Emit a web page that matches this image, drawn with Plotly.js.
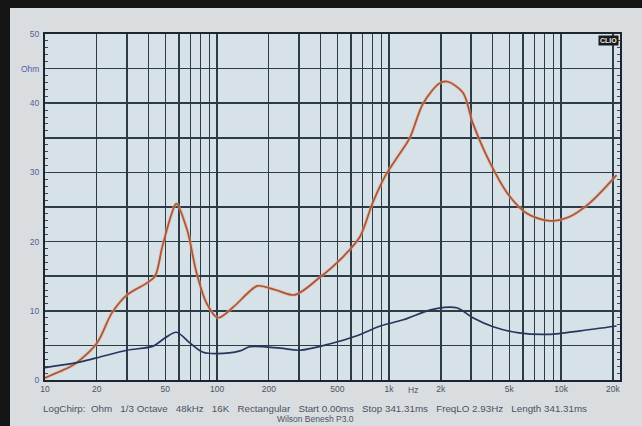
<!DOCTYPE html>
<html><head><meta charset="utf-8">
<script src="https://cdn.plot.ly/plotly-3.0.1.min.js"></script>
<style>
html,body{margin:0;padding:0;background:#141414;width:642px;height:426px;overflow:hidden;}
#chart{position:absolute;left:10px;top:8px;width:632px;height:418px;}
</style></head>
<body><div id="chart"></div>
<script>
// Red (upper) curve
const redFreq = [10, 14, 15.3, 20, 24.5, 30, 39, 43.6, 48, 54.6, 58, 67, 76, 87, 101, 125, 150, 172, 220, 283, 390, 540, 677, 800, 950, 1160, 1320, 1580, 1970, 2200, 2690, 3060, 3860, 4870, 6300, 8600, 11200, 14700, 21000];
const redOhm  = [0.3, 1.9, 2.5, 5.3, 9.7, 12.3, 14.0, 15.0, 19.2, 24.1, 25.5, 21.7, 15.5, 11.1, 9.0, 10.6, 12.5, 13.6, 13.0, 12.3, 14.7, 17.8, 20.7, 25.5, 29.5, 32.8, 35.0, 40.0, 42.9, 43.1, 41.5, 37.2, 31.4, 27.0, 24.1, 23.0, 23.6, 25.6, 29.6];
// Blue (lower) curve
const blueFreq = [10, 15.3, 20, 30, 42.5, 50, 58, 70, 83, 100, 136, 155, 232, 303, 450, 650, 890, 1210, 1720, 2100, 2500, 3070, 4030, 5700, 8600, 12900, 21000];
const blueOhm  = [1.8, 2.5, 3.2, 4.3, 4.9, 6.1, 6.9, 5.3, 4.0, 3.8, 4.2, 4.8, 4.6, 4.3, 5.2, 6.4, 7.8, 8.7, 10.1, 10.5, 10.4, 9.0, 7.7, 6.8, 6.6, 7.1, 7.8];
// Axis ticks
const xGrid = [10,20,30,40,50,60,70,80,90,100,200,300,400,500,600,700,800,900,1000,2000,3000,4000,5000,6000,7000,8000,9000,10000,20000];
const xLabels = ["10","20","","","50","","","","","100","200","","","500","","","","","1k","2k","","","5k","","","","","10k","20k"];
const yVals = [0,5,10,15,20,25,30,35,40,45,50];
const yLabels = ["0","","10","","20","","30","","40","Ohm","50"];
const footer1 = "LogChirp:  Ohm   1/3 Octave   48kHz   16K   Rectangular   Start 0.00ms   Stop 341.31ms   FreqLO 2.93Hz   Length 341.31ms";
const footer2 = "Wilson Benesh P3.0";

const traces = [
  {x: redFreq, y: redOhm, mode:'lines', line:{color:'rgba(236,170,130,0.55)', width:3.4, shape:'spline', smoothing:0.9}, hoverinfo:'skip'},
  {x: redFreq, y: redOhm, mode:'lines', line:{color:'#a8553c', width:1.7, shape:'spline', smoothing:0.9}},
  {x: blueFreq, y: blueOhm, mode:'lines', line:{color:'#26365e', width:1.7, shape:'spline', smoothing:0.9}}
];

const layout = {
  width: 632, height: 418,
  margin: {l:35, r:22, t:26, b:46},
  paper_bgcolor: '#d9dde0',
  plot_bgcolor: '#d7e1e8',
  showlegend: false,
  font: {family:'Liberation Sans, Arial, sans-serif', color:'#4a5262'},
  xaxis: {
    type:'log', range:[1, Math.log10(22000)],
    tickvals: xGrid, ticktext: xLabels,
    showgrid:true, gridcolor:'#2c3b46', gridwidth:1.3,
    showline:true, mirror:true, linecolor:'#1c2630', linewidth:2,
    ticks:'', tickfont:{size:8.5, color:'#4a5262'}, zeroline:false
  },
  yaxis: {
    range:[0,50], tickvals: yVals, ticktext: yLabels,
    showgrid:true, gridcolor:'#2c3b46', gridwidth:1.6,
    showline:true, mirror:'allticks', linecolor:'#1c2630', linewidth:2,
    ticks:'inside', ticklen:0, tickcolor:'#1c2630',
    minor:{dtick:1, ticks:'inside', ticklen:3, tickcolor:'#3a4a55', showgrid:false},
    tickfont:{size:8.5, color:'#5560a0'}, zeroline:false, ticklabelstandoff:2
  },
  annotations: [
    {text:'<b>CLIO</b>', xref:'paper', yref:'paper', x:0.998, y:0.997, xanchor:'right', yanchor:'top',
     showarrow:false, bgcolor:'#1a1a1a', font:{size:7, color:'#e8e8e8'}, borderpad:1},
    {text:'Hz', xref:'x', yref:'paper', x:3.14, y:-0.03, yanchor:'middle', showarrow:false, font:{size:8.5, color:'#4a5262'}},
    {text:footer1, xref:'paper', yref:'paper', x:0.47, y:-0.081, yanchor:'middle', showarrow:false, font:{size:9.8, color:'#4a5262'}},
    {text:footer2, xref:'paper', yref:'paper', x:0.47, y:-0.112, yanchor:'middle', showarrow:false, font:{size:8.5, color:'#4a5262'}}
  ]
};

Plotly.newPlot('chart', traces, layout, {displayModeBar:false, staticPlot:true});
</script></body></html>
